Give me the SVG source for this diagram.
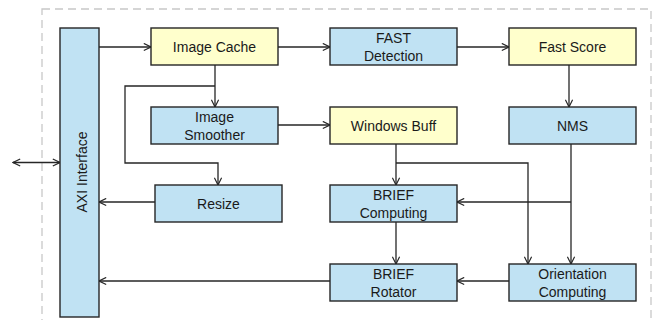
<svg xmlns="http://www.w3.org/2000/svg" width="653" height="320" viewBox="0 0 653 320">
<defs>
<style>
.b{fill:#C0E2F3;stroke:#262626;stroke-width:1.4}
.y{fill:#FFFFCC;stroke:#262626;stroke-width:1.4}
.t{font-family:"Liberation Sans",Arial,sans-serif;font-size:14px;fill:#1a1a1a;text-anchor:middle}
.c path{fill:none;stroke:#262626;stroke-width:1.3}
</style>
<marker id="a" viewBox="0 0 10 10" refX="9" refY="5" markerWidth="9" markerHeight="9" orient="auto-start-reverse" markerUnits="userSpaceOnUse">
<path d="M1,1 L9,5 L1,9" fill="none" stroke="#262626" stroke-width="1.3"/>
</marker>
</defs>
<rect x="42" y="9" width="609" height="330" fill="none" stroke="#c8c8c8" stroke-width="1.3" stroke-dasharray="8,5"/>
<g class="c">
<path d="M13,162.5 H60" marker-start="url(#a)" marker-end="url(#a)"/>
<path d="M99,47 H151" marker-end="url(#a)"/>
<path d="M278,47 H330" marker-end="url(#a)"/>
<path d="M457,47 H509" marker-end="url(#a)"/>
<path d="M569,65 V107" marker-end="url(#a)"/>
<path d="M215,65 V107" marker-end="url(#a)"/>
<path d="M215,86 H125 V163 H218 V185" marker-end="url(#a)"/>
<path d="M278,125 H330" marker-end="url(#a)"/>
<path d="M155,202 H99" marker-end="url(#a)"/>
<path d="M396,144 V185" marker-end="url(#a)"/>
<path d="M396,163 H528 V264" marker-end="url(#a)"/>
<path d="M571,144 V264" marker-end="url(#a)"/>
<path d="M571,202 H457" marker-end="url(#a)"/>
<path d="M396,222 V264" marker-end="url(#a)"/>
<path d="M509,281 H457" marker-end="url(#a)"/>
<path d="M330,281 H99" marker-end="url(#a)"/>
</g>
<g id="axi"><rect class="b" x="60" y="28" width="39" height="289"/><text class="t" transform="translate(86.5,172) rotate(-90)">AXI Interface</text></g>
<g id="imagecache"><rect class="y" x="151" y="28" width="127" height="37"/><text class="t" x="214.5" y="52">Image Cache</text></g>
<g id="fastdet"><rect class="b" x="330" y="28" width="127" height="37"/><text class="t" x="393.5" y="42.5">FAST</text><text class="t" x="393.5" y="61">Detection</text></g>
<g id="fastscore"><rect class="y" x="509" y="28" width="127" height="37"/><text class="t" x="572.5" y="52">Fast Score</text></g>
<g id="smoother"><rect class="b" x="151" y="107" width="127" height="37"/><text class="t" x="214.5" y="121.5">Image</text><text class="t" x="214.5" y="140">Smoother</text></g>
<g id="winbuff"><rect class="y" x="330" y="107" width="127" height="37"/><text class="t" x="393.5" y="131">Windows Buff</text></g>
<g id="nms"><rect class="b" x="509" y="107" width="127" height="37"/><text class="t" x="572.5" y="131">NMS</text></g>
<g id="resize"><rect class="b" x="155" y="185" width="127" height="37"/><text class="t" x="218.5" y="209">Resize</text></g>
<g id="briefcomp"><rect class="b" x="330" y="185" width="127" height="37"/><text class="t" x="393.5" y="199.5">BRIEF</text><text class="t" x="393.5" y="218">Computing</text></g>
<g id="briefrot"><rect class="b" x="330" y="264" width="127" height="37"/><text class="t" x="393.5" y="278.5">BRIEF</text><text class="t" x="393.5" y="297">Rotator</text></g>
<g id="orient"><rect class="b" x="509" y="264" width="127" height="37"/><text class="t" x="572.5" y="278.5">Orientation</text><text class="t" x="572.5" y="297">Computing</text></g>
</svg>
